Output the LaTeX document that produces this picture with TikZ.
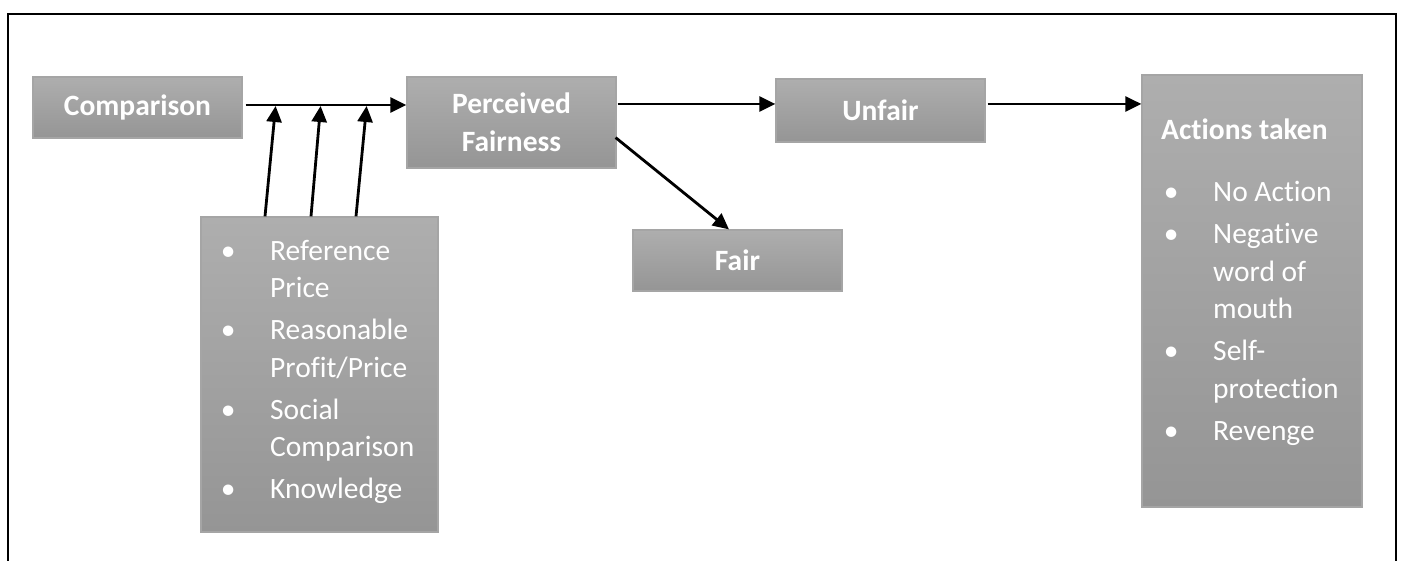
\documentclass[tikz,border=0pt]{standalone}
\usepackage{fontspec}
\setmainfont{Carlito}[Ligatures=NoCommon]
\usepackage{array}
\usetikzlibrary{arrows.meta}
\definecolor{boxtop}{RGB}{174,174,174}
\definecolor{boxbot}{RGB}{149,149,149}
\definecolor{boxedge}{RGB}{165,165,165}
\begin{document}
\begin{tikzpicture}[x=1pt,y=-1pt,
  box/.style={shade, top color=boxtop, bottom color=boxbot, draw=boxedge,
    line width=1.2pt, inner sep=0pt, text=white, align=center,
    font=\fontsize{29.5}{37.5}\selectfont\bfseries},
  listtext/.style={inner sep=0pt, text=white, anchor=north west,
    font=\fontsize{29.5}{37.5}\selectfont},
  flow/.style={line width=2.8pt, -{Triangle[length=16pt,width=15pt]}},
  frame/.style={line width=2.6pt}
]
\useasboundingbox[fill=white] (0,0) rectangle (1402,561);

% outer frame (open at the bottom)
\draw[frame] (8,561) -- (8,14) -- (1396,14) -- (1396,561);

% boxes
\node[box, minimum width=209pt, minimum height=61pt] (comp) at (137.5,107.5) {Comparison};
\node[box, minimum width=209pt, minimum height=91pt] (pf) at (511.5,122.5) {Perceived\\Fairness};
\node[box, minimum width=209pt, minimum height=63pt] (unfair) at (880.5,110.5) {Unfair};
\node[box, minimum width=209pt, minimum height=61pt] (fair) at (737.5,260.5) {Fair};
\node[box, minimum width=237pt, minimum height=315pt] (factors) at (319.5,374.5) {};
\node[box, minimum width=220pt, minimum height=432pt] (actions) at (1252,291) {};

% factor list
\node[listtext] (factorlist) at (218,234) {%
  \begin{tabular}{@{}wc{20pt}@{\hspace{32pt}}l@{}}
  \textbullet & Reference\\
              & Price\\[4.5pt]
  \textbullet & Reasonable\\
              & Profit/Price\\[4.5pt]
  \textbullet & Social\\
              & Comparison\\[4.5pt]
  \textbullet & Knowledge
  \end{tabular}};

% actions list
\node[listtext] (actionlist) at (1161,113) {%
  \begin{tabular}{@{}wc{20pt}@{\hspace{32pt}}l@{}}
  \multicolumn{2}{@{}l@{}}{\bfseries Actions taken}\\[25pt]
  \textbullet & No Action\\[4.5pt]
  \textbullet & Negative\\
              & word of\\
              & mouth\\[4.5pt]
  \textbullet & Self-\\
              & protection\\[4.5pt]
  \textbullet & Revenge
  \end{tabular}};

% connectors
\draw[flow] ([xshift=3pt,yshift=2.5pt]comp.east) coordinate (main) -- (main -| pf.west);
\draw[flow] ([xshift=-54.5pt]factors.north) -- ([xshift=30pt,yshift=-1pt]main);
\draw[flow] ([xshift=-8.5pt]factors.north) -- ([xshift=75pt,yshift=-1pt]main);
\draw[flow] ([xshift=36.5pt]factors.north) -- ([xshift=121pt,yshift=-1pt]main);
\draw[flow] ([xshift=1pt,yshift=18.5pt]pf.east) coordinate (pfout) -- (pfout -| unfair.west);
\draw[flow] ([xshift=-1pt,yshift=31pt]pf.south east) -- ([xshift=-8.5pt]fair.north);
\draw[flow] ([xshift=2pt,yshift=6.5pt]unfair.east) coordinate (ufout) -- (ufout -| actions.west);
\end{tikzpicture}
\end{document}
